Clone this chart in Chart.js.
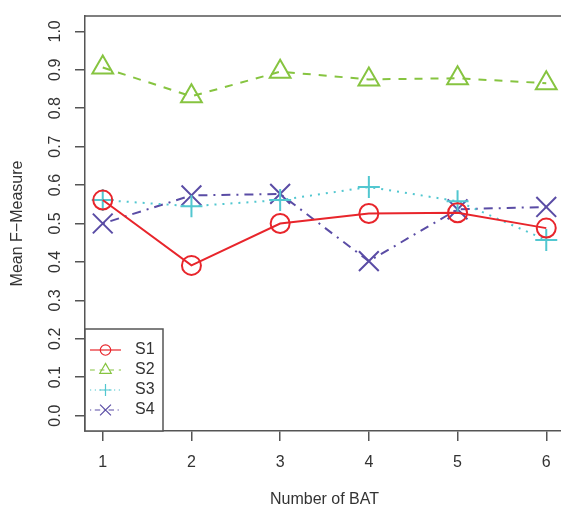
<!DOCTYPE html>
<html>
<head>
<meta charset="utf-8">
<script src="https://cdn.jsdelivr.net/npm/chart.js@4.4.1/dist/chart.umd.min.js"></script>
<style>
  html, body { margin: 0; padding: 0; background: #fff; overflow: hidden; }
  #wrap { width: 561px; height: 512px; overflow: hidden; position: relative; }
  #box { position: absolute; left: 0; top: 0; width: 580px; height: 512px; }
</style>
</head>
<body>
<div id="wrap"><div id="box"><canvas id="chart"></canvas></div></div>
<script>
  const batCounts = [1, 2, 3, 4, 5, 6];
  const s1 = [0.561, 0.391, 0.500, 0.526, 0.528, 0.488];
  const s2 = [0.906, 0.831, 0.895, 0.875, 0.878, 0.865];
  const s3 = [0.561, 0.545, 0.561, 0.595, 0.558, 0.457];
  const s4 = [0.500, 0.573, 0.577, 0.402, 0.537, 0.543];
  const yTicks = [0.0, 0.1, 0.2, 0.3, 0.4, 0.5, 0.6, 0.7, 0.8, 0.9, 1.0];

  const axisGrey = '#555';
  const textCol = '#333';
  const font = "'Liberation Sans', Arial, sans-serif";

  const series = [
    { label: 'S1', data: s1, color: '#E8252B', dash: [], style: 'circle', r: 9.5 },
    { label: 'S2', data: s2, color: '#86C440', dash: [8, 8], style: 'triangle', r: 12 },
    { label: 'S3', data: s3, color: '#52C7D0', dash: [2, 6], style: 'cross', r: 11 },
    { label: 'S4', data: s4, color: '#5A4CA5', dash: [2, 6, 9, 6], style: 'crossRot', r: 14 }
  ];

  const datasets = series.map((s) => ({
    label: s.label,
    data: s.data.map((v, i) => ({ x: batCounts[i], y: v })),
    borderColor: s.color,
    backgroundColor: 'rgba(0,0,0,0)',
    borderWidth: 2,
    borderDash: s.dash,
    pointStyle: s.style,
    pointRadius: s.r,
    pointBorderWidth: 2,
    pointBorderColor: s.color,
    pointBackgroundColor: 'rgba(0,0,0,0)',
    tension: 0
  }));

  // box top edge, rotated y labels, axis titles and the R-style legend
  const extras = {
    id: 'extras',
    afterDraw(chart) {
      const { ctx, chartArea: a, scales } = chart;
      ctx.save();
      ctx.strokeStyle = axisGrey;
      ctx.lineWidth = 1.5;
      ctx.beginPath();
      ctx.moveTo(a.left, a.top);
      ctx.lineTo(a.right, a.top);
      ctx.lineTo(a.right, a.bottom);
      ctx.stroke();

      ctx.fillStyle = textCol;
      ctx.font = '16px ' + font;
      ctx.textAlign = 'center';
      ctx.textBaseline = 'middle';
      yTicks.forEach((v) => {
        const y = scales.y.getPixelForValue(v);
        ctx.save();
        ctx.translate(56, y);
        ctx.rotate(-Math.PI / 2);
        ctx.fillText(v.toFixed(1), 0, 0);
        ctx.restore();
      });

      ctx.save();
      ctx.translate(18, (a.top + a.bottom) / 2);
      ctx.rotate(-Math.PI / 2);
      ctx.fillText('Mean F\u2212Measure', 0, 0);
      ctx.restore();
      ctx.fillText('Number of BAT', (a.left + a.right) / 2, 500);

      // legend
      const lx = a.left, ly = 329, lw = 78, lh = a.bottom - ly;
      ctx.fillStyle = '#fff';
      ctx.fillRect(lx, ly, lw, lh);
      ctx.strokeStyle = axisGrey;
      ctx.strokeRect(lx, ly, lw, lh);
      series.forEach((s, i) => {
        const y = 350 + i * 20;
        ctx.strokeStyle = s.color;
        ctx.lineWidth = 1.2;
        ctx.setLineDash(s.dash.map((d) => d * 0.6));
        ctx.beginPath();
        ctx.moveTo(90, y);
        ctx.lineTo(121, y);
        ctx.stroke();
        ctx.setLineDash([]);
        ctx.fillStyle = 'rgba(0,0,0,0)';
        Chart.helpers.drawPoint(ctx, {
          pointStyle: s.style, radius: s.r * 0.55, borderWidth: 1.2, rotation: 0
        }, 105.5, y);
        ctx.fillStyle = textCol;
        ctx.font = '16px ' + font;
        ctx.textAlign = 'left';
        ctx.fillText(s.label, 135, y);
      });
      ctx.restore();
    }
  };

  new Chart(document.getElementById('chart'), {
    type: 'line',
    data: { datasets },
    options: {
      responsive: true,
      maintainAspectRatio: false,
      animation: false,
      layout: { padding: { top: 12, right: 14, left: 0, bottom: 0 } },
      plugins: { legend: { display: false }, tooltip: { enabled: false } },
      scales: {
        x: {
          type: 'linear',
          min: 0.8,
          max: 6.2,
          afterBuildTicks: (sc) => { sc.ticks = batCounts.map((v) => ({ value: v })); },
          afterFit: (sc) => { sc.height = 81; },
          grid: { drawOnChartArea: false, drawTicks: true, tickLength: 10, color: axisGrey, lineWidth: 1.5 },
          border: { color: axisGrey, width: 1.5 },
          ticks: { color: textCol, font: { size: 16, family: font }, padding: 12, maxRotation: 0, autoSkip: false }
        },
        y: {
          type: 'linear',
          min: -0.04,
          max: 1.04,
          afterBuildTicks: (sc) => { sc.ticks = yTicks.map((v) => ({ value: v })); },
          afterFit: (sc) => { sc.width = 85; },
          grid: { drawOnChartArea: false, drawTicks: true, tickLength: 10, color: axisGrey, lineWidth: 1.5 },
          border: { color: axisGrey, width: 1.5 },
          ticks: { display: true, color: 'rgba(0,0,0,0)', font: { size: 16, family: font } }
        }
      }
    },
    plugins: [extras]
  });
</script>
</body>
</html>
